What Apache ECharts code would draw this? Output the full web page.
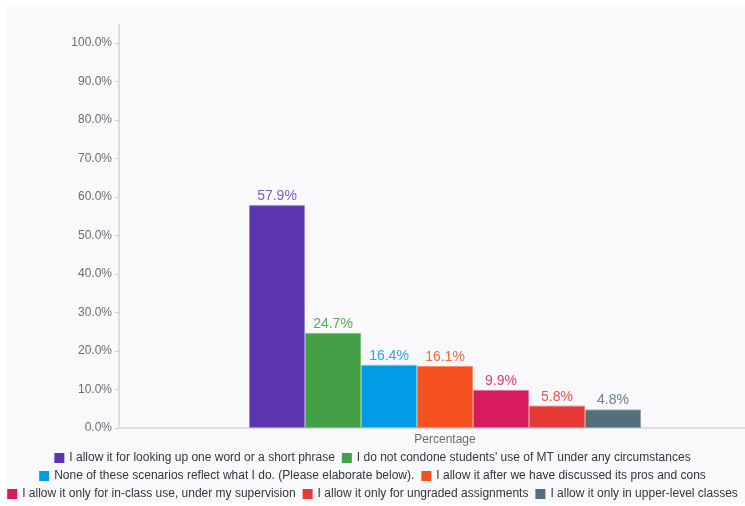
<!DOCTYPE html>
<html>
<head>
<meta charset="utf-8">
<script src="https://cdn.jsdelivr.net/npm/echarts@6/dist/echarts.min.js"></script>
<style>
html,body{margin:0;padding:0;background:#ffffff;}
#panel{position:absolute;left:7px;top:5px;width:738px;height:498px;background:#f9f9fb;}
#main{position:absolute;left:0;top:0;width:745px;height:506px;}
</style>
</head>
<body>
<div id="panel"></div>
<div id="main"></div>
<script>
const categories = ['Percentage'];
const seriesNames = [
  'I allow it for looking up one word or a short phrase',
  "I do not condone students' use of MT under any circumstances",
  'None of these scenarios reflect what I do. (Please elaborate below).',
  'I allow it after we have discussed its pros and cons',
  'I allow it only for in-class use, under my supervision',
  'I allow it only for ungraded assignments',
  'I allow it only in upper-level classes'
];
const values = [57.9, 24.7, 16.4, 16.1, 9.9, 5.8, 4.8];
const barColors = ['#5e35b1', '#43a047', '#039be5', '#f4511e', '#d81b60', '#e53935', '#546e7a'];
const labelColors = ['#7a5cc6', '#5aa85c', '#2ba6ea', '#f26a45', '#dc3f73', '#ea5552', '#6c818b'];
const borderColors = ['#9b86d6', '#7cc07e', '#6cc3f0', '#f78c6a', '#e8739b', '#f07b78', '#8fa2ab'];
const yTicks = [0, 10, 20, 30, 40, 50, 60, 70, 80, 90, 100];
const legendRows = [[0, 1], [2, 3], [4, 5, 6]];

const chart = echarts.init(document.getElementById('main'), null, {renderer: 'canvas'});
const font = 'Liberation Sans, Arial, sans-serif';

const series = seriesNames.map((name, i) => ({
  name: name,
  type: 'bar',
  data: [values[i]],
  barWidth: 56,
  barGap: '0%',
  itemStyle: {color: barColors[i], borderColor: borderColors[i], borderWidth: 1},
  label: {
    show: true,
    position: 'top',
    distance: 2,
    color: labelColors[i],
    fontSize: 14,
    fontFamily: font,
    formatter: p => p.value.toFixed(1) + '%'
  }
}));

const legendTops = [452, 470, 488];
const legends = legendRows.map((row, r) => ({
  data: row.map(i => ({name: seriesNames[i], itemStyle: {color: barColors[i], borderWidth: 0}})),
  top: legendTops[r],
  left: 'center',
  icon: 'rect',
  itemWidth: 10,
  itemHeight: 10,
  itemGap: 7,
  padding: [0, 0, 0, 8],
  selectedMode: false,
  textStyle: {color: '#32363a', fontSize: 12, fontFamily: font}
}));

chart.setOption({
  animation: false,
  backgroundColor: 'transparent',
  grid: {left: 119, right: -26, top: 25, bottom: 78, containLabel: false, outerBoundsMode: 'none'},
  legend: legends,
  xAxis: {
    type: 'category',
    data: categories,
    axisLine: {show: true, lineStyle: {color: '#dcdde0', width: 2}},
    axisTick: {show: false},
    axisLabel: {color: '#6a6d70', fontSize: 12, fontFamily: font, margin: 6}
  },
  yAxis: {
    type: 'value',
    min: 0,
    max: 104.7,
    interval: 10,
    axisLine: {show: true, lineStyle: {color: '#dcdde0', width: 2}},
    axisTick: {show: true, length: 4, lineStyle: {color: '#cfd0d3'}, customValues: yTicks},
    splitLine: {show: false},
    axisLabel: {
      color: '#6a6d70', fontSize: 12, fontFamily: font, margin: 7,
      customValues: yTicks,
      formatter: v => v.toFixed(1) + '%'
    }
  },
  series: series
});
</script>
</body>
</html>
